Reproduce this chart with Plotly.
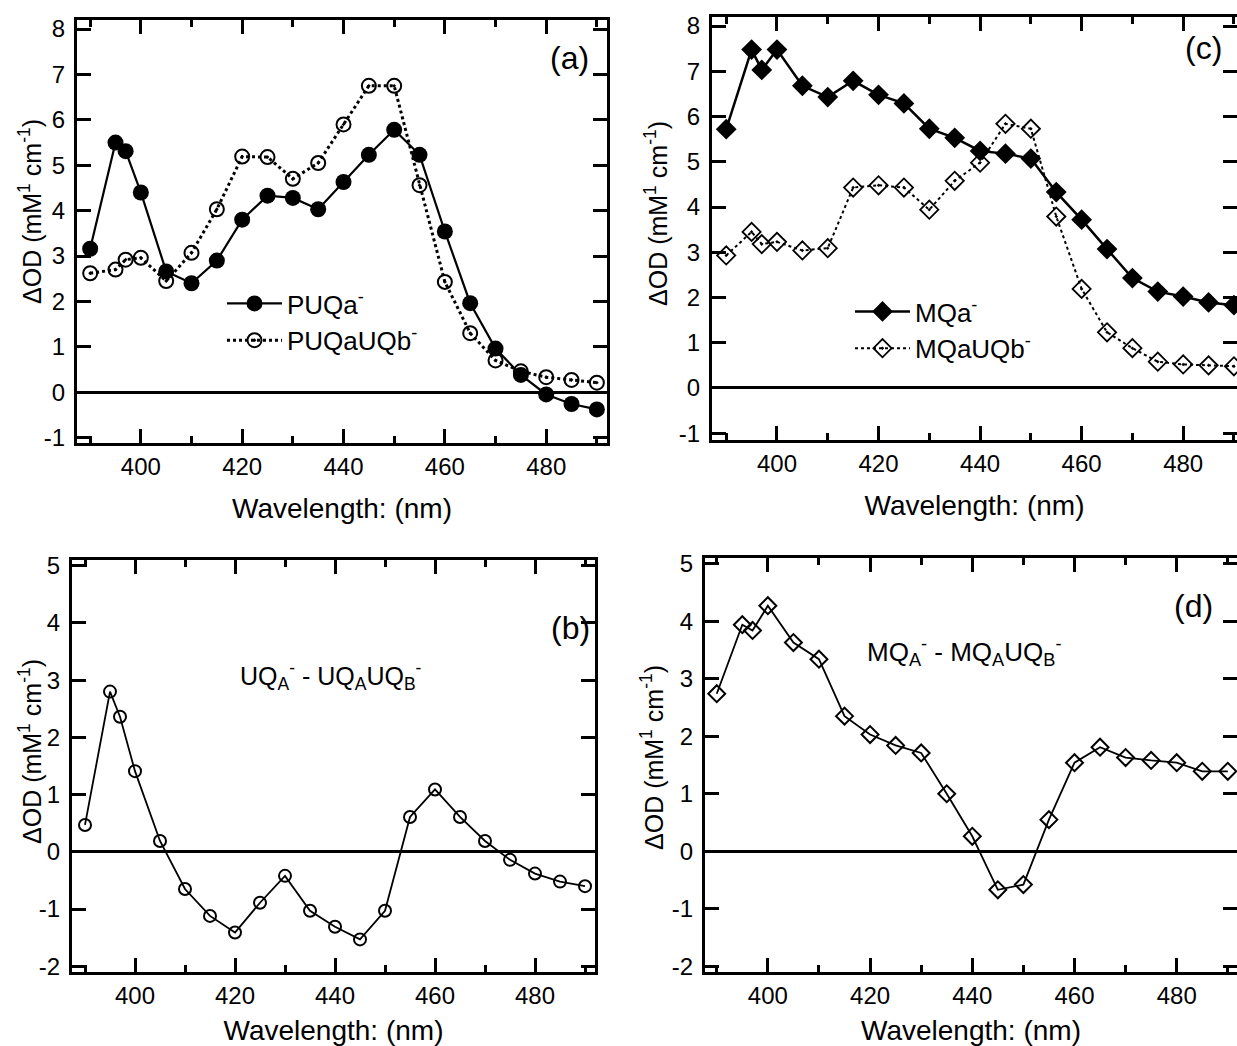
import plotly.graph_objects as go
from plotly.subplots import make_subplots

wavelength = [390, 395, 397, 400, 405, 410, 415, 420, 425, 430, 435, 440,
              445, 450, 455, 460, 465, 470, 475, 480, 485, 490]

puqa = [3.16, 5.50, 5.31, 4.40, 2.66, 2.40, 2.90, 3.80, 4.33, 4.28, 4.03, 4.63,
        5.23, 5.78, 5.23, 3.54, 1.96, 0.96, 0.38, -0.05, -0.26, -0.38]
puqauqb = [2.62, 2.70, 2.92, 2.96, 2.45, 3.07, 4.03, 5.19, 5.18, 4.70, 5.05, 5.90,
           6.75, 6.75, 4.56, 2.43, 1.30, 0.70, 0.46, 0.33, 0.27, 0.21]

mqa = [5.72, 7.48, 7.03, 7.48, 6.68, 6.43, 6.79, 6.48, 6.29, 5.73, 5.53, 5.24,
       5.18, 5.07, 4.33, 3.72, 3.07, 2.43, 2.13, 2.02, 1.89, 1.83]
mqauqb = [2.93, 3.45, 3.18, 3.23, 3.04, 3.09, 4.43, 4.48, 4.43, 3.94, 4.58, 4.98,
          5.84, 5.73, 3.79, 2.19, 1.23, 0.88, 0.58, 0.52, 0.50, 0.48]

uq_diff = [0.47, 2.80, 2.36, 1.41, 0.19, -0.65, -1.12, -1.41, -0.89, -0.42, -1.03, -1.31,
           -1.53, -1.03, 0.61, 1.09, 0.61, 0.19, -0.14, -0.38, -0.52, -0.60]
mq_diff = [2.74, 3.94, 3.84, 4.27, 3.63, 3.34, 2.35, 2.03, 1.84, 1.71, 1.00, 0.26,
           -0.67, -0.58, 0.55, 1.54, 1.81, 1.63, 1.58, 1.54, 1.39, 1.39]

x_ticks = [400, 420, 440, 460, 480]
x_minor_ticks = [390, 410, 430, 450, 470, 490]
top_y_ticks = [-1, 0, 1, 2, 3, 4, 5, 6, 7, 8]
bottom_y_ticks = [-2, -1, 0, 1, 2, 3, 4, 5]

FONT = "Liberation Sans, Arial, Helvetica, sans-serif"
W, H = 1237, 1046


def px_x(p):
    return p / W


def px_y(p):
    return 1 - p / H


fig = make_subplots(rows=2, cols=2)

# (a)
fig.add_trace(go.Scatter(x=wavelength, y=puqa, mode="lines+markers", name="PUQa<sup>-</sup>",
                         line=dict(color="black", width=2.2),
                         marker=dict(symbol="circle", size=16, color="black"),
                         legend="legend"), row=1, col=1)
fig.add_trace(go.Scatter(x=wavelength, y=puqauqb, mode="lines+markers", name="PUQaUQb<sup>-</sup>",
                         line=dict(color="black", width=3, dash="dot"),
                         marker=dict(symbol="circle-open-dot", size=14, color="black",
                                     line=dict(width=2, color="black")),
                         legend="legend"), row=1, col=1)
# (c)
fig.add_trace(go.Scatter(x=wavelength, y=mqa, mode="lines+markers", name="MQa<sup>-</sup>",
                         line=dict(color="black", width=2.5),
                         marker=dict(symbol="diamond", size=16, color="black"),
                         legend="legend2"), row=1, col=2)
fig.add_trace(go.Scatter(x=wavelength, y=mqauqb, mode="lines+markers", name="MQaUQb<sup>-</sup>",
                         line=dict(color="black", width=2, dash="dot"),
                         marker=dict(symbol="diamond-open-dot", size=14, color="black",
                                     line=dict(width=1.8, color="black")),
                         legend="legend2"), row=1, col=2)
# (b)
fig.add_trace(go.Scatter(x=wavelength, y=uq_diff, mode="lines+markers", showlegend=False,
                         line=dict(color="black", width=1.8),
                         marker=dict(symbol="circle-open", size=12, color="black",
                                     line=dict(width=2, color="black"))), row=2, col=1)
# (d)
fig.add_trace(go.Scatter(x=wavelength, y=mq_diff, mode="lines+markers", showlegend=False,
                         line=dict(color="black", width=1.8),
                         marker=dict(symbol="diamond-open", size=13, color="black",
                                     line=dict(width=2, color="black"))), row=2, col=2)

# (row, col): x px span, y px span, x range, y range, y ticks, title standoff
domains = {
    (1, 1): ([77, 607], [20, 443], [387.4, 492.0], [-1.12, 8.2], top_y_ticks, 20),
    (1, 2): ([712, 1237], [17, 440], [387.2, 490.6], [-1.15, 8.2], top_y_ticks, 20),
    (2, 1): ([72, 595], [560, 972], [387.4, 492.0], [-2.1, 5.1], bottom_y_ticks, 20),
    (2, 2): ([705, 1237], [558, 972], [387.7, 491.8], [-2.1, 5.1], bottom_y_ticks, 20),
}

for (r, c), (xd, yd, xr, yr, yt, so) in domains.items():
    fig.update_xaxes(row=r, col=c,
                     domain=[px_x(xd[0]), min(1.0, px_x(xd[1]))],
                     range=xr, tickvals=x_ticks, ticktext=[str(v) for v in x_ticks],
                     ticks="inside", ticklen=14, tickwidth=2.5,
                     tickcolor="black", showline=True, linecolor="black", linewidth=3,
                     mirror="allticks", showgrid=False, zeroline=False, automargin=False,
                     tickfont=dict(family=FONT, size=24, color="black"),
                     ticklabelstandoff=0,
                     minor=dict(tickvals=x_minor_ticks, ticks="inside",
                                ticklen=7, tickwidth=2.5, tickcolor="black", showgrid=False),
                     title=dict(text="Wavelength: (nm)", standoff=so,
                                font=dict(family=FONT, size=28, color="black")))
    fig.update_yaxes(row=r, col=c,
                     domain=[px_y(yd[1]), px_y(yd[0])],
                     range=yr, tickvals=yt, ticktext=[str(v) for v in yt],
                     ticks="inside", ticklen=14, tickwidth=2.5,
                     tickcolor="black", showline=True, linecolor="black", linewidth=3,
                     mirror="allticks", showgrid=False, automargin=False,
                     zeroline=True, zerolinecolor="black", zerolinewidth=2.5,
                     tickfont=dict(family=FONT, size=24, color="black"),
                     ticklabelstandoff=4)

ytitle = "\u0394OD (mM<sup>1</sup> cm<sup>-1</sup>)"
for xc, yc in [(30, 212), (656, 214), (30, 752), (652, 758)]:
    fig.add_annotation(xref="paper", yref="paper", showarrow=False, textangle=-90,
                       x=px_x(xc), y=px_y(yc), xanchor="center", yanchor="middle",
                       text=ytitle, font=dict(family=FONT, size=25, color="black"))

annots = [
    dict(text="(a)", x=px_x(569), y=px_y(58)),
    dict(text="(c)", x=px_x(1203), y=px_y(48)),
    dict(text="(b)", x=px_x(570), y=px_y(628)),
    dict(text="(d)", x=px_x(1193), y=px_y(606)),
]
for a in annots:
    fig.add_annotation(xref="paper", yref="paper", showarrow=False,
                       xanchor="center", yanchor="middle",
                       font=dict(family=FONT, size=32, color="black"), **a)

fig.add_annotation(xref="paper", yref="paper", showarrow=False, x=px_x(331), y=px_y(676),
                   xanchor="center", yanchor="middle",
                   text="UQ<sub>A</sub><sup>-</sup> - UQ<sub>A</sub>UQ<sub>B</sub><sup>-</sup>",
                   font=dict(family=FONT, size=25, color="black"))
fig.add_annotation(xref="paper", yref="paper", showarrow=False, x=px_x(964), y=px_y(652),
                   xanchor="center", yanchor="middle",
                   text="MQ<sub>A</sub><sup>-</sup> - MQ<sub>A</sub>UQ<sub>B</sub><sup>-</sup>",
                   font=dict(family=FONT, size=26, color="black"))

fig.update_layout(
    width=W, height=H,
    margin=dict(l=0, r=0, t=0, b=0, autoexpand=False),
    paper_bgcolor="white", plot_bgcolor="white",
    showlegend=True,
    legend=dict(x=px_x(222), y=px_y(280), xanchor="left", yanchor="top",
                bgcolor="rgba(0,0,0,0)", tracegroupgap=0, itemwidth=55,
                font=dict(family=FONT, size=26, color="black")),
    legend2=dict(x=px_x(850), y=px_y(288), xanchor="left", yanchor="top",
                 bgcolor="rgba(0,0,0,0)", tracegroupgap=0, itemwidth=55,
                 font=dict(family=FONT, size=26, color="black")),
)

fig.write_html("out.html", config={"displayModeBar": False},
               post_script="document.body.style.margin='0px';document.body.style.overflow='hidden';")
